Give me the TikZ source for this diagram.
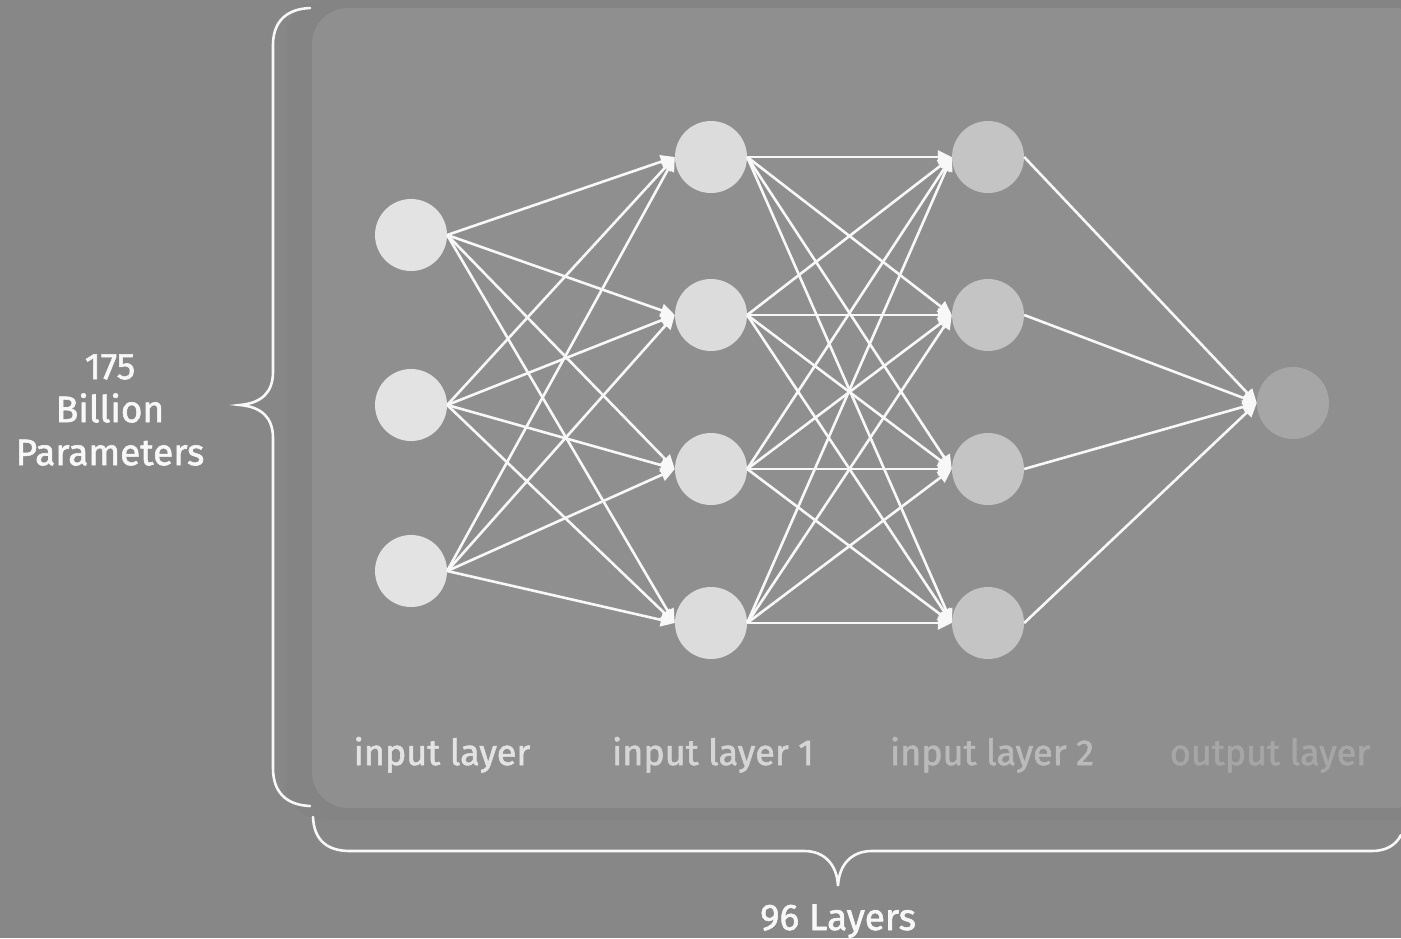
\documentclass[tikz,border=0pt]{standalone}
\usepackage{fontspec}
\setmainfont{Fira Sans}[FakeBold=1.6]
\usetikzlibrary{arrows.meta}
\definecolor{bgc}{HTML}{878787}
\definecolor{shadowc}{HTML}{848484}
\definecolor{panelc}{HTML}{8F8F8F}
\definecolor{nin}{HTML}{E3E3E3}
\definecolor{nh1}{HTML}{DCDCDC}
\definecolor{nh2}{HTML}{C4C4C4}
\definecolor{nout}{HTML}{A6A6A6}
\definecolor{linec}{HTML}{F8F8F8}
\tikzset{
  neuron/.style={circle, inner sep=0pt, minimum size=72pt, draw=none},
  conn/.style={draw=linec, line width=2.6pt, -{Triangle[length=14pt,width=13pt]}},
  bracec/.style={draw=linec, line width=2.6pt, line cap=round},
  lbl/.style={font=\fontsize{36}{40}\selectfont, anchor=base},
  side/.style={font=\fontsize{37}{43}\selectfont, text=linec, align=center}
}
\begin{document}
\begin{tikzpicture}[x=1pt,y=-1pt]
\useasboundingbox (0,0) rectangle (1401,938);
\fill[bgc] (0,0) rectangle (1401,938);
% shadow and panel
\fill[shadowc, rounded corners=38pt] (286,0) rectangle (1440,820);
\fill[panelc, rounded corners=36pt] (312,8) rectangle (1430,808);

% neurons
\node[neuron, fill=nin] (i1) at (411,235) {};
\node[neuron, fill=nin] (i2) at (411,405) {};
\node[neuron, fill=nin] (i3) at (411,571) {};
\node[neuron, fill=nh1] (h1) at (711,157) {};
\node[neuron, fill=nh1] (h2) at (711,315) {};
\node[neuron, fill=nh1] (h3) at (711,469) {};
\node[neuron, fill=nh1] (h4) at (711,623) {};
\node[neuron, fill=nh2] (g1) at (988,157) {};
\node[neuron, fill=nh2] (g2) at (988,315) {};
\node[neuron, fill=nh2] (g3) at (988,469) {};
\node[neuron, fill=nh2] (g4) at (988,623) {};
\node[neuron, fill=nout] (o) at (1293,403) {};

% connections
\foreach \a in {i1,i2,i3}{\foreach \b in {h1,h2,h3,h4}{\draw[conn] (\a.east) -- (\b.west);}}
\foreach \a in {h1,h2,h3,h4}{\foreach \b in {g1,g2,g3,g4}{\draw[conn] (\a.east) -- (\b.west);}}
\foreach \a in {g1,g2,g3,g4}{\draw[conn] (\a.east) -- (o.west);}

% layer labels
\node[lbl, text=nin] (l0) at (442,765) {input layer};
\node[lbl, text=nh1!97!black] (l1) at (713,765) {input layer 1};
\node[lbl, text=nh2!95!black] (l2) at (992,765) {input layer 2};
\node[lbl, text=nout] (l3) at (1270,765) {output layer};

% left brace
\coordinate (lbt) at (310,8);
\coordinate (lbb) at (310,806);
\coordinate (lbm) at (240,405);
\draw[bracec] (lbt) .. controls (286,9) and (273,22) .. (273,45)
  -- (273,372) .. controls (273,392) and (262,403) .. (lbm)
  .. controls (262,407) and (273,418) .. (273,438)
  -- (273,768) .. controls (273,792) and (286,805) .. (lbb);
\node[side] (params) at (110,410) {175\\Billion\\Parameters};

% bottom brace
\coordinate (bbl) at (313,817);
\coordinate (bbm) at (838,886);
\coordinate (bbr) at (1401,835);
\draw[bracec] (bbl) .. controls (314,840) and (327,851) .. (350,851)
  -- (804,851) .. controls (824,851) and (837,864) .. (bbm)
  .. controls (839,864) and (852,851) .. (872,851)
  -- (1372,851) .. controls (1386,851) and (1396,845) .. (bbr);
\node[side, anchor=base] (layers) at (838,930) {96 Layers};
\end{tikzpicture}
\end{document}
